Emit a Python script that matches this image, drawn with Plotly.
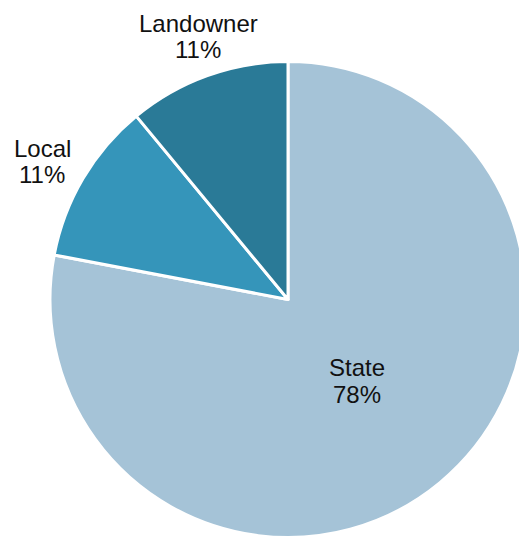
import plotly.graph_objects as go

# Share of funding by source
categories = ["State", "Local", "Landowner"]
shares = [78, 11, 11]
colors = ["#A5C3D7", "#3595BA", "#2A7A97"]

# Label anchor points in pixels (centre x, name baseline, value baseline)
label_pos = {
    "State": (357, 376, 403),
    "Local": (42, 157, 183),
    "Landowner": (198, 32, 58),
}

W, H = 540, 560
FONT = dict(family="Liberation Sans, Arial, sans-serif", size=24, color="#111111")

# Pie box in pixels: centre (288, 299.5), radius 238
cx, cy, r = 288, 299.5, 238

fig = go.Figure(
    go.Pie(
        labels=categories,
        values=shares,
        sort=False,
        direction="clockwise",
        rotation=0,
        marker=dict(colors=colors, line=dict(color="white", width=3)),
        textinfo="none",
        hoverinfo="label+percent",
        domain=dict(
            x=[(cx - r) / W, (cx + r) / W],
            y=[1 - (cy + r) / H, 1 - (cy - r) / H],
        ),
        showlegend=False,
    )
)

annotations = []
for cat, val in zip(categories, shares):
    px, y1, y2 = label_pos[cat]
    for txt, base in ((cat, y1), (f"{val}%", y2)):
        annotations.append(
            dict(
                text=txt,
                x=px / W,
                y=1 - (base - 8.5) / H,
                xref="paper",
                yref="paper",
                xanchor="center",
                yanchor="middle",
                showarrow=False,
                font=FONT,
            )
        )

fig.update_layout(
    width=W,
    height=H,
    margin=dict(l=0, r=0, t=0, b=0),
    paper_bgcolor="white",
    plot_bgcolor="white",
    annotations=annotations,
)

fig.write_html(
    "out.html",
    post_script=(
        "document.documentElement.style.overflow='hidden';"
        "document.body.style.overflow='hidden';"
        "document.body.style.margin='0';"
    ),
)
